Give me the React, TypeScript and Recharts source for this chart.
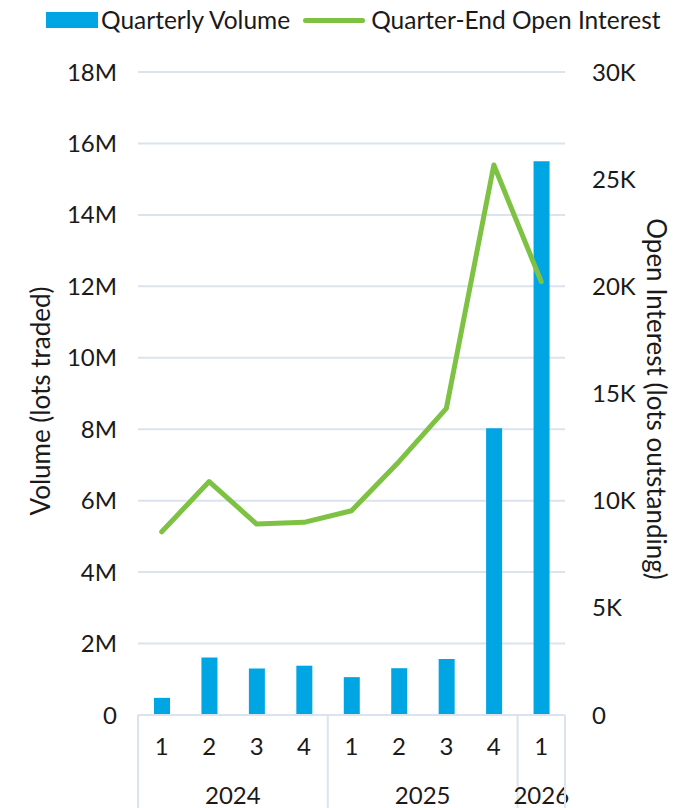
import React from 'react';
import { ComposedChart, Bar, Line, XAxis, YAxis, CartesianGrid } from 'recharts';

const quarters = ['1', '2', '3', '4', '1', '2', '3', '4', '1'];
const years = ['2024', '2024', '2024', '2024', '2025', '2025', '2025', '2025', '2026'];
const volume = [480000, 1610000, 1300000, 1380000, 1060000, 1310000, 1570000, 8030000, 15500000];
const openInterest = [8550, 10890, 8910, 8990, 9530, 11820, 14310, 25660, 20220];
const volumeTicks = [0, 2000000, 4000000, 6000000, 8000000, 10000000, 12000000, 14000000, 16000000, 18000000];
const oiTicks = [0, 5000, 10000, 15000, 20000, 25000, 30000];

const data = quarters.map((q, i) => ({
  key: `${years[i]}-${q}`,
  volume: volume[i],
  oi: openInterest[i],
}));

const W = 690;
const H = 808;
const PLOT_L = 138;
const PLOT_R = 565;
const PLOT_T = 72;
const PLOT_B = 715;
const band = (PLOT_R - PLOT_L) / quarters.length;

const FONT = 'Lato, "Open Sans", sans-serif';
const TEXT = '#1a1a1a';
const GRID = '#DAE3EE';
const BLUE = '#00A5E3';
const GREEN = '#7DC242';

const QuarterTick = (props: any) => {
  const { x, index } = props;
  const left = x - band / 2;
  const isFirst = index === 0 || years[index] !== years[index - 1];
  const isLast = index === quarters.length - 1;
  let count = 0;
  for (let j = index; j < years.length && years[j] === years[index]; j++) count++;
  return (
    <g>
      <text x={x} y={PLOT_B + 40} textAnchor="middle" fill={TEXT} fontSize={24} fontFamily={FONT}>
        {quarters[index]}
      </text>
      {isFirst && <line x1={left} x2={left} y1={PLOT_B} y2={H} stroke={GRID} strokeWidth={2} />}
      {isFirst && (
        <text x={left + (count * band) / 2} y={PLOT_B + 89} textAnchor="middle" fill={TEXT} fontSize={24} fontFamily={FONT}>
          {years[index]}
        </text>
      )}
      {isLast && <line x1={x + band / 2} x2={x + band / 2} y1={PLOT_B} y2={H} stroke={GRID} strokeWidth={2} />}
    </g>
  );
};

const fmtM = (v: number) => (v === 0 ? '0' : `${v / 1000000}M`);
const fmtK = (v: number) => (v === 0 ? '0' : `${v / 1000}K`);

const LegendRow = () => (
  <div
    style={{
      position: 'absolute',
      top: 4,
      left: 46,
      display: 'flex',
      alignItems: 'center',
      fontFamily: FONT,
      fontSize: 24.5,
      color: TEXT,
      whiteSpace: 'nowrap',
      lineHeight: '32px',
    }}
  >
    <span style={{ width: 52, height: 16, background: BLUE, display: 'inline-block', marginRight: 3 }} />
    <span>Quarterly Volume</span>
    <span style={{ width: 62, height: 5, borderRadius: 3, background: GREEN, display: 'inline-block', margin: '0 6px 0 13px' }} />
    <span>Quarter-End Open Interest</span>
  </div>
);

export default function App() {
  return (
    <div style={{ position: 'absolute', left: 0, top: 0, width: W, height: H, background: '#fff' }}>
      <ComposedChart
        width={W}
        height={H}
        data={data}
        margin={{ top: PLOT_T, right: 0, left: 0, bottom: 0 }}
        barSize={16}
      >
        <CartesianGrid yAxisId="left" vertical={false} stroke={GRID} strokeWidth={2} />
        <XAxis
          dataKey="key"
          height={H - PLOT_B}
          interval={0}
          tickLine={false}
          axisLine={{ stroke: GRID, strokeWidth: 2 }}
          tick={<QuarterTick />}
        />
        <YAxis
          yAxisId="left"
          width={PLOT_L}
          domain={[0, 18000000]}
          ticks={volumeTicks}
          tickFormatter={fmtM}
          axisLine={false}
          tickLine={false}
          tickSize={0}
          tickMargin={21}
          tick={{ fill: TEXT, fontSize: 24, fontFamily: FONT }}
          label={{
            content: () => (
              <text
                x={40}
                y={401}
                transform="rotate(-90 40 401)"
                textAnchor="middle"
                dominantBaseline="central"
                fill={TEXT}
                fontSize={26}
                fontFamily={FONT}
              >
                Volume (lots traded)
              </text>
            ),
          }}
        />
        <YAxis
          yAxisId="right"
          orientation="right"
          width={W - PLOT_R}
          domain={[0, 30000]}
          ticks={oiTicks}
          tickFormatter={fmtK}
          axisLine={false}
          tickLine={false}
          tickSize={0}
          tickMargin={27}
          tick={{ fill: TEXT, fontSize: 24, fontFamily: FONT, textAnchor: 'start' }}
          label={{
            content: () => (
              <text
                x={657}
                y={399}
                transform="rotate(90 657 399)"
                textAnchor="middle"
                dominantBaseline="central"
                fill={TEXT}
                fontSize={26}
                fontFamily={FONT}
              >
                Open Interest (lots outstanding)
              </text>
            ),
          }}
        />
        <Bar yAxisId="left" dataKey="volume" fill={BLUE} isAnimationActive={false} />
        <Line
          yAxisId="right"
          dataKey="oi"
          type="linear"
          stroke={GREEN}
          strokeWidth={5}
          strokeLinecap="round"
          strokeLinejoin="round"
          dot={false}
          activeDot={false}
          isAnimationActive={false}
        />
      </ComposedChart>
      <LegendRow />
    </div>
  );
}
